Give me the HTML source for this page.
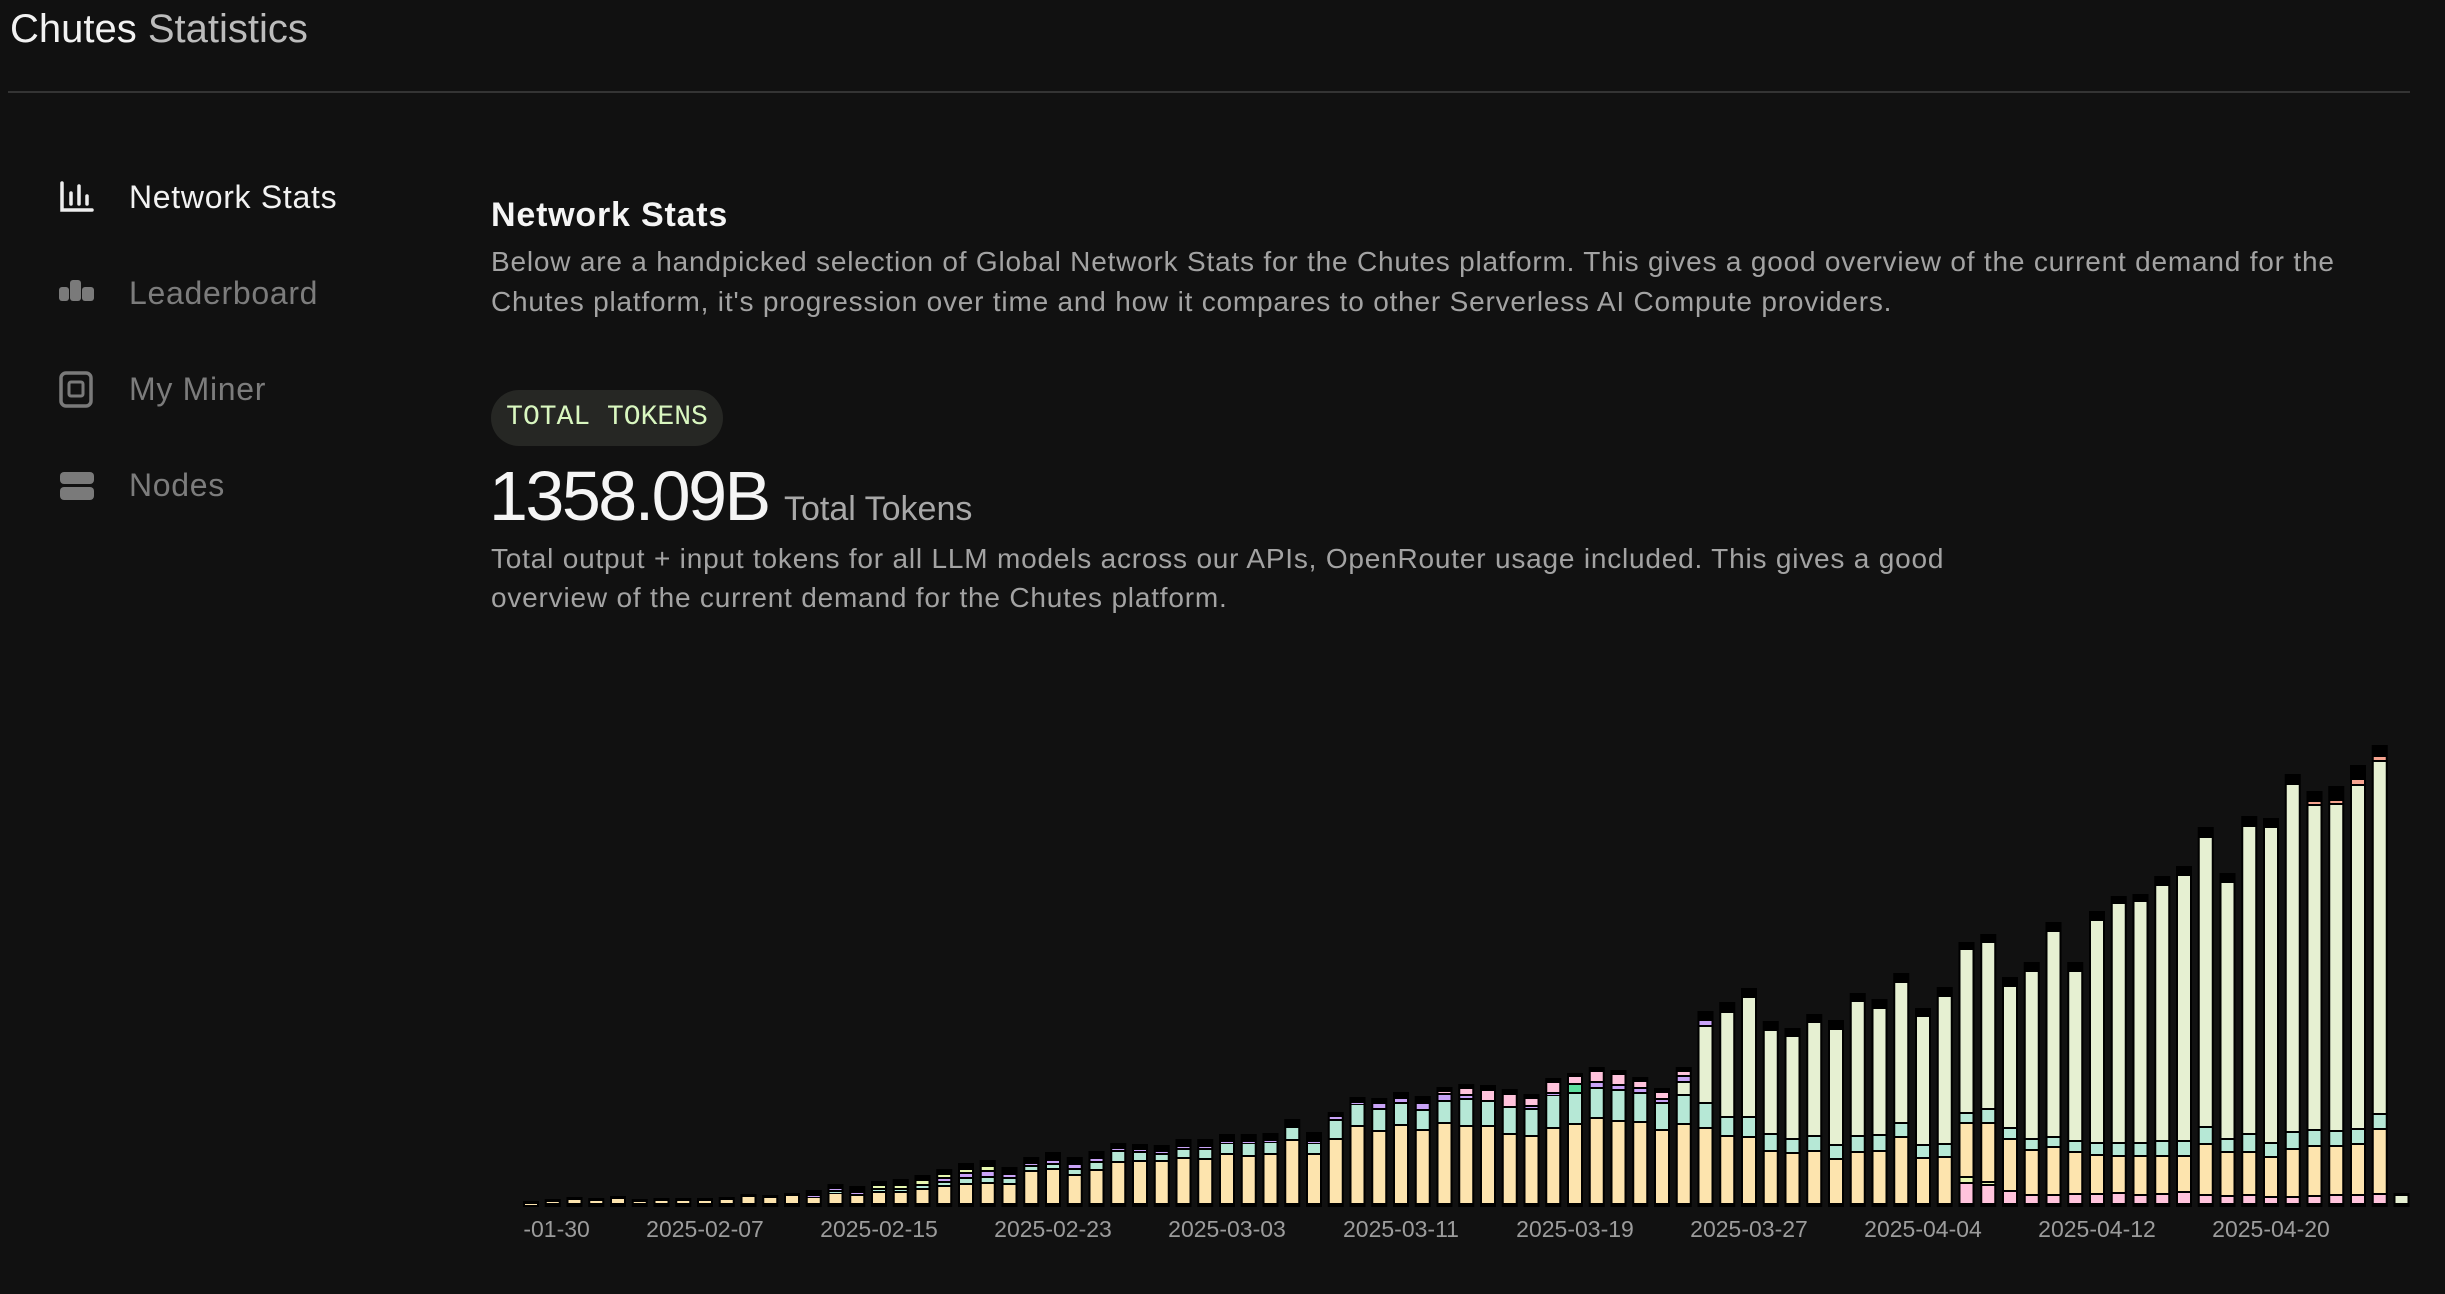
<!DOCTYPE html>
<html><head><meta charset="utf-8"><style>
body{margin:0;width:2445px;height:1294px;background:#111111;overflow:hidden;position:relative;font-family:"Liberation Sans",sans-serif}
.a{position:absolute;line-height:1;white-space:nowrap}
.nav{font-size:32px;color:#7c7c7c;left:129px;letter-spacing:0.7px}
.p{font-size:28px;color:#a3a3a3;left:491px;letter-spacing:0.8px}
</style></head><body>
<div class="a" style="left:10px;top:9px;font-size:40px"><span style="color:#f2f2f2">Chutes</span> <span style="color:#bcbcbc">Statistics</span></div>
<div style="position:absolute;left:8px;top:91px;width:2402px;height:2px;background:#343434"></div>

<svg style="position:absolute;left:0;top:0" width="300" height="520">
 <g fill="none" stroke="#eeeeee" stroke-width="3.5" stroke-linecap="round">
  <path d="M62 183 V210 H92"/><path d="M71 193 V204"/><path d="M79 186 V204"/><path d="M87 196 V204"/>
 </g>
 <g fill="#7a7a7a">
  <rect x="59" y="287" width="10" height="14" rx="3"/><rect x="70" y="280" width="11" height="21" rx="3"/><rect x="82" y="287" width="12" height="14" rx="3"/>
  <rect x="61" y="373" width="30" height="33" rx="5" fill="none" stroke="#7a7a7a" stroke-width="3.5"/><rect x="69" y="382" width="14" height="14" rx="2" fill="none" stroke="#7a7a7a" stroke-width="3"/>
  <rect x="60" y="472" width="34" height="12" rx="4"/><rect x="60" y="487" width="34" height="13" rx="4"/>
 </g>
</svg>
<div class="a nav" style="top:181px;color:#f2f2f2">Network Stats</div>
<div class="a nav" style="top:277px">Leaderboard</div>
<div class="a nav" style="top:373px">My Miner</div>
<div class="a nav" style="top:469px">Nodes</div>

<div class="a" style="left:491px;top:198px;font-size:34px;font-weight:bold;letter-spacing:0.8px;color:#f5f5f5">Network Stats</div>
<div class="a p" style="top:248px">Below are a handpicked selection of Global Network Stats for the Chutes platform. This gives a good overview of the current demand for the</div>
<div class="a p" style="top:288px">Chutes platform, it's progression over time and how it compares to other Serverless AI Compute providers.</div>

<div class="a" style="left:491px;top:390px;width:232px;height:56px;border-radius:28px;background:#262724;color:#d9f7c0;font-family:'Liberation Mono',monospace;font-size:28px;line-height:56px;text-align:center">TOTAL TOKENS</div>
<div class="a" style="left:489px;top:461px;font-size:70px;letter-spacing:-2.5px;color:#f5f5f5">1358.09B</div>
<div class="a" style="left:784px;top:492px;font-size:34px;color:#a8a8a8">Total Tokens</div>
<div class="a p" style="top:545px">Total output + input tokens for all LLM models across our APIs, OpenRouter usage included. This gives a good</div>
<div class="a p" style="top:584px">overview of the current demand for the Chutes platform.</div>

<svg id="ch" style="position:absolute;left:0;top:0" width="2445" height="1294">
 <defs><clipPath id="cp"><rect x="523" y="600" width="1922" height="694"/></clipPath></defs>
 <g clip-path="url(#cp)" font-family="Liberation Sans, sans-serif" font-size="23" fill="#9c9c9c" text-anchor="middle">
  <text x="531" y="1237">2025-01-30</text>
  <text x="705" y="1237">2025-02-07</text>
  <text x="879" y="1237">2025-02-15</text>
  <text x="1053" y="1237">2025-02-23</text>
  <text x="1227" y="1237">2025-03-03</text>
  <text x="1401" y="1237">2025-03-11</text>
  <text x="1575" y="1237">2025-03-19</text>
  <text x="1749" y="1237">2025-03-27</text>
  <text x="1923" y="1237">2025-04-04</text>
  <text x="2097" y="1237">2025-04-12</text>
  <text x="2271" y="1237">2025-04-20</text>
  <g id="bars"></g>
 </g>
</svg>
<script>
var C={Y:'#fde4ae',T:'#b6e8d6',P:'#c9a3f7',L:'#e6f7b0',K:'#ffc3dc',G:'#e6f0d2',S:'#f5a38f',N:'#5fe0a0'};
var D=[
'Y1|3','Y3|5','Y5|7','Y4|6','Y6|8','Y3|5','Y4|6','Y4|6','Y4|6','Y5|7','Y8|10','Y7|9','Y9|11',
'Y7,P9|14','Y11,T13,P16|20','Y9,P12|18','Y12,T15,L19|23','Y12,T15,L19|25','Y15,T19,L24|29',
'Y18,T22,P26,L30|35','Y20,T26,P31,L35|41','Y21,T27,P33,L38|44','Y20,T26,P30|37','Y33,T38,P41|47',
'Y35,T40,P44|52','Y29,T35,P40|47','Y34,T42,P46|53','Y42,T53,P56|61','Y43,T52,P55|60','Y43,T50,P53|59',
'Y46,T55,P58|65','Y45,T55,P58|65','Y50,T61,P63|70','Y48,T61,P63|70','Y50,T62,P64|71','Y64,T77|85','Y50,T61,P63|72',
'Y65,T84,P88|92','Y78,T100,P102|107','Y73,T95,P101|106','Y79,T101,P106|112','Y74,T94,P101|108',
'Y81,T103,P110,K113|117','Y78,T105,P109,K116|120','Y78,T103,K114|119','Y70,T97,K110|115','Y68,T95,P98,K106|110',
'Y76,T109,P111,K122|126','Y80,T111,N120,K128|131','Y86,T116,P122,K133|137','Y83,T114,P119,K130|134',
'Y82,T111,P116,K123|127','Y74,T101,P105,K112|116','Y80,T109,G122,P128,K133|137','Y76,T101,G178,P184|193',
'Y68,T87,G192|202','Y67,T87,G207|216','Y53,T70,G174|183','Y51,T65,G168|176','Y53,T68,G182|190','Y45,T59,G175|184',
'Y52,T68,G203|211','Y53,T69,G196|205','Y67,T81,G222|231','Y46,T59,G188|196','Y47,T60,G208|217',
'K21,L27,Y81,T91,G255|262','K19,L22,Y81,T95,G262|270','K13,Y65,T76,G218|227','K9,Y54,T65,G233|242',
'K9,Y57,T67,G273|282','K10,Y52,T63,G233|242','K10,Y49,T61,G284|293','K11,Y48,T61,G301|308','K9,Y48,T61,G303|310',
'K10,Y48,T63,G319|328','K12,Y48,T63,G329|338','K9,Y60,T77,G367|377','K8,Y52,T65,G322|331','K9,Y52,T70,G378|388',
'K7,Y47,T61,G377|386','K7,Y55,T72,G420|430','K8,Y58,T74,G399,S403|413','K9,Y58,T73,G400,S404|418',
'K9,Y60,T75,G419,S425|439','K10,Y75,T90,G443,S448|459','G9|11'];
var B=1204,s='';
D.forEach(function(d,i){
 var x=531+21.75*i,q=d.split('|'),tot=+q[1];
 s+='<rect x="'+(x-8)+'" y="'+(B-tot)+'" width="16" height="'+(tot+3)+'" fill="#000"/>';
 var prev=0;
 q[0].split(',').forEach(function(g){
  var c=C[g[0]],t=+g.slice(1),h=t-prev-2;
  if(h<1)h=1;
  s+='<rect x="'+(x-6)+'" y="'+(B-t+1)+'" width="12" height="'+h+'" fill="'+c+'"/>';
  prev=t;
 });
});
document.getElementById('bars').innerHTML=s;
</script>
</body></html>
